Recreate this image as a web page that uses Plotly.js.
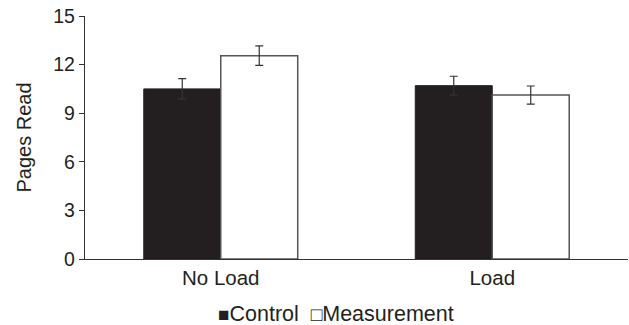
<!DOCTYPE html>
<html><head><meta charset="utf-8">
<script src="https://cdn.plot.ly/plotly-3.0.1.min.js"></script>
<style>html,body{margin:0;padding:0;background:#fff}</style>
</head><body>
<div id="chart" style="width:629px;height:325px"></div>
<script>
const categories = ["No Load", "Load"];
const seriesNames = ["Control", "Measurement"];
const controlValues = [10.5, 10.7];
const controlErrors = [0.63, 0.58];
const measurementValues = [12.55, 10.12];
const measurementErrors = [0.6, 0.56];
const yTicks = [0, 3, 6, 9, 12, 15];

const traces = [
  {type: "bar", name: seriesNames[0], x: categories, y: controlValues, showlegend: false,
   marker: {color: "#231f20", line: {color: "#231f20", width: 1}},
   error_y: {type: "data", array: controlErrors, visible: true, color: "#333", thickness: 1.2, width: 4}},
  {type: "bar", name: seriesNames[1], x: categories, y: measurementValues, showlegend: false,
   marker: {color: "#ffffff", line: {color: "#555555", width: 1.5}},
   error_y: {type: "data", array: measurementErrors, visible: true, color: "#333", thickness: 1.2, width: 4}}
];

const layout = {
  width: 629, height: 325,
  margin: {l: 85, r: 1, t: 16, b: 66},
  paper_bgcolor: "#fff", plot_bgcolor: "#fff",
  font: {family: "Liberation Sans, Arial, sans-serif", color: "#231f20", size: 19.5},
  barmode: "group", bargap: 0.433, bargroupgap: 0,
  showlegend: false,
  xaxis: {type: "category", range: [-0.5, 1.5], showline: true, linecolor: "#333", linewidth: 1.2,
          ticks: "", showgrid: false, zeroline: false, tickfont: {size: 20.5}},
  yaxis: {range: [0, 15], tickvals: yTicks, ticktext: yTicks.map(String), showline: true,
          linecolor: "#333", linewidth: 1.2, ticks: "outside", ticklen: 5, tickcolor: "#333",
          showgrid: false, zeroline: false, tickfont: {size: 19.5},
          title: {text: "Pages Read", font: {size: 20}, standoff: 16}},
  annotations: [{
    xref: "paper", yref: "paper", x: 0.462, y: -0.226, xanchor: "center", yanchor: "middle",
    showarrow: false, font: {size: 21.5},
    text: "<span style='font-size:19px'>■</span>" + seriesNames[0] + "  <span style='font-size:19px'>□</span>" + seriesNames[1]
  }]
};
Plotly.newPlot("chart", traces, layout, {displayModeBar: false, staticPlot: true});
</script>
</body></html>
